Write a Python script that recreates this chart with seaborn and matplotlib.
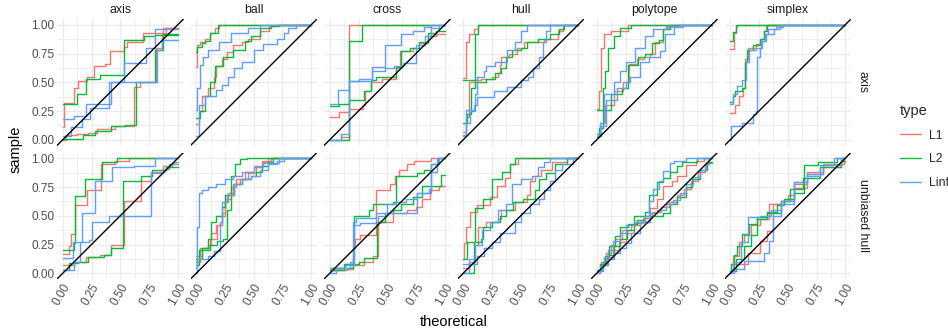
import matplotlib
matplotlib.use("Agg")
import matplotlib.pyplot as plt
from matplotlib.lines import Line2D
from matplotlib.ticker import FixedLocator
import pandas as pd
import seaborn as sns

# facet levels, series and tick labels
shapes = ["axis", "ball", "cross", "hull", "polytope", "simplex"]
samplers = ["axis", "unbiased hull"]
types = ["L1", "L2", "Linf"]
tick_values = [0.0, 0.25, 0.5, 0.75, 1.0]
tick_labels = ["0.00", "0.25", "0.50", "0.75", "1.00"]
palette = {"L1": "#F8766D", "L2": "#00BA38", "Linf": "#619CFF"}

# step curves (theoretical, sample) per norm type, two runs each
axis_axis = {
    "L1": [[(0, 0.11), (0.01, 0.32), (0.10, 0.45), (0.13, 0.51), (0.21, 0.55), (0.27, 0.64), (0.37, 0.66), (0.41, 0.77), (0.53, 0.81), (0.56, 0.85), (0.70, 0.93), (0.87, 0.97)],
           [(0, 0.0), (0.03, 0.04), (0.12, 0.05), (0.22, 0.06), (0.30, 0.09), (0.45, 0.12), (0.62, 0.46), (0.67, 0.50), (0.81, 0.80), (0.86, 0.93), (0.90, 0.97)]],
    "L2": [[(0, 0.31), (0.12, 0.40), (0.20, 0.53), (0.32, 0.56), (0.53, 0.87), (0.71, 0.90), (0.80, 0.91)],
           [(0, 0.01), (0.18, 0.04), (0.28, 0.08), (0.42, 0.12), (0.54, 0.13), (0.64, 0.50), (0.80, 0.78), (0.87, 0.92)]],
    "Linf": [[(0, 0.18), (0.10, 0.21), (0.20, 0.31), (0.42, 0.50), (0.53, 0.67), (0.72, 0.80), (0.80, 0.96)],
             [(0, 0.03), (0.07, 0.11), (0.17, 0.18), (0.24, 0.28), (0.40, 0.50), (0.82, 0.78), (0.86, 0.87)]],
}
ball_axis = {
    "L1": [[(0, 0.63), (0.01, 0.82), (0.03, 0.85), (0.08, 0.88), (0.12, 0.93), (0.16, 0.97), (0.20, 1.0)],
           [(0, 0.14), (0.02, 0.25), (0.05, 0.38), (0.10, 0.45), (0.15, 0.55), (0.17, 0.64), (0.22, 0.70), (0.27, 0.76), (0.32, 0.82), (0.40, 0.85), (0.45, 0.88), (0.55, 0.95), (0.63, 0.99), (0.70, 1.0)]],
    "L2": [[(0, 0.76), (0.01, 0.81), (0.05, 0.84), (0.08, 0.86), (0.12, 0.93), (0.19, 1.0)],
           [(0, 0.19), (0.03, 0.25), (0.08, 0.38), (0.12, 0.50), (0.16, 0.64), (0.23, 0.72), (0.32, 0.78), (0.42, 0.86), (0.48, 0.90), (0.55, 0.97), (0.65, 0.99), (0.72, 1.0)]],
    "Linf": [[(0, 0.26), (0.01, 0.45), (0.03, 0.65), (0.06, 0.72), (0.10, 0.78), (0.20, 0.85), (0.30, 0.93), (0.45, 0.97), (0.55, 1.0)],
             [(0, 0.03), (0.02, 0.30), (0.08, 0.38), (0.17, 0.43), (0.22, 0.48), (0.28, 0.55), (0.33, 0.62), (0.40, 0.68), (0.50, 0.78), (0.58, 0.83), (0.70, 0.88), (0.76, 0.93), (0.80, 0.97), (0.87, 1.0)]],
}
cross_axis = {
    "L1": [[(0, 0.20), (0.08, 0.24), (0.17, 1.0)],
           [(0, 0.0), (0.10, 0.02), (0.17, 0.27), (0.29, 0.30), (0.31, 0.42), (0.36, 0.50), (0.45, 0.53), (0.58, 0.62), (0.61, 0.77), (0.72, 0.80), (0.78, 0.84), (0.85, 0.90), (0.92, 0.92)]],
    "L2": [[(0, 0.29), (0.08, 0.31), (0.17, 0.86), (0.28, 1.0)],
           [(0, 0.0), (0.17, 0.35), (0.30, 0.42), (0.36, 0.52), (0.40, 0.55), (0.58, 0.63), (0.62, 0.77), (0.70, 0.80), (0.78, 0.85), (0.85, 0.93), (0.92, 0.95)]],
    "Linf": [[(0, 0.31), (0.07, 0.43), (0.17, 0.51), (0.37, 0.63), (0.48, 0.82), (0.62, 0.92), (0.72, 0.95), (0.82, 0.98), (0.88, 1.0)],
             [(0, 0.0), (0.10, 0.05), (0.17, 0.51), (0.25, 0.53), (0.37, 0.60), (0.48, 0.62), (0.56, 0.64), (0.64, 0.67), (0.75, 0.82), (0.83, 0.90), (0.88, 0.97), (0.95, 1.0)]],
}
hull_axis = {
    "L1": [[(0, 0.54), (0.02, 0.85), (0.05, 0.92), (0.09, 0.96), (0.13, 1.0)],
           [(0, 0.07), (0.02, 0.20), (0.05, 0.50), (0.10, 0.52), (0.15, 0.53), (0.25, 0.55), (0.30, 0.58), (0.32, 0.65), (0.33, 0.72), (0.40, 0.75), (0.47, 0.80), (0.53, 0.85), (0.70, 0.88), (0.82, 0.95), (0.87, 1.0)]],
    "L2": [[(0, 0.52), (0.10, 0.92), (0.13, 1.0)],
           [(0, 0.15), (0.03, 0.22), (0.07, 0.45), (0.10, 0.50), (0.20, 0.53), (0.28, 0.58), (0.33, 0.62), (0.37, 0.72), (0.42, 0.78), (0.50, 0.80), (0.55, 0.85), (0.65, 0.88), (0.75, 0.92), (0.83, 0.96), (0.88, 1.0)]],
    "Linf": [[(0, 0.04), (0.02, 0.15), (0.06, 0.25), (0.10, 0.40), (0.12, 0.55), (0.18, 0.60), (0.20, 0.64), (0.28, 0.68), (0.38, 0.78), (0.45, 0.85), (0.50, 0.95), (0.55, 1.0)],
             [(0, 0.03), (0.02, 0.26), (0.09, 0.30), (0.12, 0.37), (0.27, 0.42), (0.38, 0.46), (0.50, 0.52), (0.56, 0.55), (0.61, 0.62), (0.66, 0.72), (0.69, 0.85), (0.72, 0.95), (0.75, 1.0)]],
}
polytope_axis = {
    "L1": [[(0, 0.27), (0.02, 0.42), (0.04, 0.80), (0.06, 0.92), (0.12, 0.95), (0.27, 1.0)],
           [(0, 0.05), (0.03, 0.15), (0.07, 0.30), (0.15, 0.42), (0.23, 0.50), (0.28, 0.66), (0.35, 0.70), (0.41, 0.72), (0.46, 0.75), (0.51, 0.85), (0.58, 0.96), (0.61, 0.98), (0.68, 1.0)]],
    "L2": [[(0, 0.26), (0.05, 0.45), (0.07, 0.60), (0.10, 0.80), (0.15, 0.90), (0.20, 0.97), (0.30, 1.0)],
           [(0, 0.02), (0.02, 0.10), (0.05, 0.26), (0.12, 0.40), (0.22, 0.45), (0.27, 0.65), (0.36, 0.72), (0.42, 0.75), (0.48, 0.84), (0.54, 0.87), (0.58, 0.96), (0.64, 1.0)]],
    "Linf": [[(0, 0.05), (0.03, 0.15), (0.06, 0.40), (0.15, 0.50), (0.20, 0.60), (0.25, 0.68), (0.33, 0.80), (0.42, 0.90), (0.49, 0.96), (0.60, 0.99), (0.72, 1.0)],
             [(0, 0.03), (0.04, 0.12), (0.08, 0.35), (0.18, 0.45), (0.25, 0.50), (0.29, 0.55), (0.38, 0.68), (0.45, 0.72), (0.55, 0.77), (0.59, 0.92), (0.67, 0.98), (0.75, 1.0)]],
}
simplex_axis = {
    "L1": [[(0, 0.79), (0.03, 0.93), (0.05, 0.98), (0.06, 1.0)],
           [(0, 0.235), (0.04, 0.30), (0.08, 0.38), (0.11, 0.45), (0.13, 0.70), (0.15, 0.80), (0.22, 0.83), (0.27, 0.88), (0.29, 0.95), (0.31, 1.0)]],
    "L2": [[(0, 0.86), (0.02, 0.94), (0.05, 1.0)],
           [(0, 0.33), (0.02, 0.38), (0.04, 0.42), (0.10, 0.45), (0.13, 0.68), (0.145, 0.78), (0.20, 0.82), (0.26, 0.88), (0.29, 0.95), (0.32, 1.0)]],
    "Linf": [[(0, 0.31), (0.02, 0.40), (0.06, 0.47), (0.10, 0.52), (0.14, 0.68), (0.16, 0.78), (0.22, 0.80), (0.27, 0.86), (0.30, 0.92), (0.33, 0.96), (0.40, 0.98), (0.45, 1.0)],
             [(0, 0.0), (0.01, 0.12), (0.10, 0.15), (0.20, 0.22), (0.22, 0.25), (0.235, 0.72), (0.26, 0.80), (0.28, 0.86), (0.31, 0.92), (0.38, 0.96), (0.43, 0.98), (0.46, 1.0)]],
}
axis_unbiased = {
    "L1": [[(0, 0.17), (0.05, 0.24), (0.07, 0.34), (0.11, 0.59), (0.21, 0.72), (0.33, 0.95), (0.45, 0.98), (0.58, 1.0)],
           [(0, 0.07), (0.10, 0.10), (0.20, 0.14), (0.32, 0.16), (0.42, 0.25), (0.53, 0.63), (0.68, 0.80), (0.77, 0.87), (0.87, 0.93), (0.95, 0.95)]],
    "L2": [[(0, 0.20), (0.10, 0.26), (0.11, 0.67), (0.19, 0.82), (0.34, 0.97), (0.47, 1.0)],
           [(0, 0.03), (0.05, 0.09), (0.13, 0.10), (0.22, 0.14), (0.36, 0.16), (0.42, 0.22), (0.52, 0.80), (0.68, 0.85), (0.78, 0.90), (0.90, 0.92)]],
    "Linf": [[(0, 0.13), (0.09, 0.27), (0.17, 0.52), (0.28, 0.80), (0.43, 0.92), (0.62, 0.93), (0.80, 1.0)],
             [(0, 0.03), (0.10, 0.10), (0.15, 0.27), (0.23, 0.29), (0.25, 0.45), (0.40, 0.50), (0.77, 0.88), (0.88, 0.91), (0.92, 0.95), (0.97, 0.97)]],
}
ball_unbiased = {
    "L1": [[(0, 0.10), (0.03, 0.22), (0.10, 0.25), (0.13, 0.35), (0.17, 0.42), (0.22, 0.50), (0.25, 0.62), (0.28, 0.70), (0.32, 0.78), (0.38, 0.82), (0.45, 0.87), (0.52, 0.92), (0.58, 0.97), (0.62, 1.0)],
           [(0, 0.15), (0.05, 0.22), (0.12, 0.30), (0.18, 0.42), (0.22, 0.52), (0.25, 0.65), (0.30, 0.75), (0.35, 0.82), (0.42, 0.88), (0.50, 0.93), (0.57, 0.98), (0.65, 1.0)]],
    "L2": [[(0, 0.07), (0.02, 0.20), (0.05, 0.22), (0.10, 0.30), (0.13, 0.45), (0.17, 0.50), (0.22, 0.58), (0.25, 0.68), (0.30, 0.85), (0.34, 0.95), (0.38, 0.99), (0.44, 1.0)],
           [(0, 0.12), (0.05, 0.20), (0.12, 0.25), (0.18, 0.28), (0.23, 0.30), (0.27, 0.55), (0.30, 0.68), (0.33, 0.78), (0.40, 0.82), (0.48, 0.85), (0.52, 0.88), (0.57, 0.93), (0.62, 0.97), (0.67, 1.0)]],
    "Linf": [[(0, 0.05), (0.01, 0.40), (0.02, 0.70), (0.05, 0.72), (0.10, 0.75), (0.17, 0.78), (0.25, 0.82), (0.32, 0.85), (0.40, 0.88), (0.50, 0.92), (0.58, 0.96), (0.72, 1.0)],
             [(0, 0.0), (0.01, 0.12), (0.10, 0.15), (0.15, 0.19), (0.21, 0.45), (0.22, 0.62), (0.27, 0.68), (0.33, 0.78), (0.40, 0.82), (0.48, 0.85), (0.55, 0.90), (0.62, 0.95), (0.70, 0.98), (0.76, 1.0)]],
}
cross_unbiased = {
    "L1": [[(0, 0.03), (0.08, 0.05), (0.13, 0.08), (0.20, 0.22), (0.22, 0.30), (0.26, 0.33), (0.40, 0.72), (0.52, 0.78), (0.57, 0.85), (0.60, 0.90), (0.67, 0.95), (0.73, 0.98), (0.88, 1.0)],
           [(0, 0.03), (0.15, 0.04), (0.20, 0.07), (0.30, 0.10), (0.38, 0.15), (0.42, 0.45), (0.55, 0.52), (0.67, 0.55), (0.75, 0.58), (0.80, 0.65), (0.87, 0.72), (0.95, 0.76)]],
    "L2": [[(0, 0.03), (0.12, 0.05), (0.20, 0.13), (0.21, 0.50), (0.34, 0.55), (0.38, 0.60), (0.55, 0.62), (0.58, 0.85), (0.76, 0.87), (0.82, 0.90), (0.88, 0.95), (0.94, 1.0)],
           [(0, 0.05), (0.12, 0.08), (0.25, 0.10), (0.30, 0.13), (0.41, 0.45), (0.48, 0.52), (0.55, 0.55), (0.62, 0.60), (0.72, 0.66), (0.80, 0.76), (0.97, 0.855)]],
    "Linf": [[(0, 0.05), (0.13, 0.07), (0.21, 0.42), (0.26, 0.44), (0.42, 0.50), (0.50, 0.60), (0.58, 0.62), (0.66, 0.65), (0.76, 0.70), (0.88, 0.88), (0.93, 1.0)],
             [(0, 0.0), (0.05, 0.05), (0.18, 0.10), (0.20, 0.45), (0.23, 0.48), (0.40, 0.52), (0.76, 0.70), (0.86, 0.73), (0.88, 0.95), (0.95, 1.0)]],
}
hull_unbiased = {
    "L1": [[(0, 0.12), (0.01, 0.26), (0.02, 0.40), (0.06, 0.53), (0.12, 0.59), (0.23, 0.66), (0.29, 0.76), (0.36, 0.83), (0.41, 0.95), (0.48, 1.0)],
           [(0, 0.05), (0.05, 0.10), (0.10, 0.25), (0.13, 0.40), (0.20, 0.45), (0.30, 0.47), (0.33, 0.55), (0.45, 0.62), (0.55, 0.68), (0.58, 0.80), (0.62, 0.85), (0.68, 0.90), (0.77, 0.97), (0.90, 1.0)]],
    "L2": [[(0, 0.12), (0.03, 0.27), (0.10, 0.57), (0.17, 0.65), (0.25, 0.82), (0.34, 0.88), (0.41, 0.95), (0.45, 1.0)],
           [(0, 0.0), (0.09, 0.27), (0.15, 0.30), (0.17, 0.40), (0.25, 0.45), (0.32, 0.50), (0.37, 0.55), (0.43, 0.62), (0.52, 0.65), (0.62, 0.72), (0.66, 0.82), (0.72, 0.87), (0.80, 0.95), (0.90, 1.0)]],
    "Linf": [[(0, 0.08), (0.05, 0.12), (0.10, 0.25), (0.16, 0.38), (0.23, 0.45), (0.30, 0.55), (0.37, 0.60), (0.42, 0.78), (0.50, 0.82), (0.60, 0.85), (0.65, 0.92), (0.70, 0.97), (0.75, 1.0)],
             [(0, 0.0), (0.05, 0.08), (0.12, 0.15), (0.18, 0.22), (0.25, 0.27), (0.32, 0.35), (0.45, 0.45), (0.50, 0.52), (0.58, 0.60), (0.66, 0.65), (0.70, 0.72), (0.75, 0.80), (0.80, 0.90), (0.86, 0.95), (0.95, 1.0)]],
}
polytope_unbiased = {
    "L1": [[(0, 0.03), (0.04, 0.10), (0.08, 0.18), (0.12, 0.25), (0.16, 0.30), (0.22, 0.38), (0.30, 0.42), (0.38, 0.45), (0.46, 0.57), (0.52, 0.65), (0.58, 0.76), (0.65, 0.80), (0.70, 0.85), (0.78, 0.94), (0.86, 0.98), (0.93, 1.0)],
           [(0, 0.02), (0.04, 0.07), (0.09, 0.14), (0.14, 0.20), (0.19, 0.27), (0.25, 0.35), (0.32, 0.44), (0.40, 0.48), (0.48, 0.53), (0.56, 0.58), (0.63, 0.62), (0.70, 0.68), (0.76, 0.73), (0.82, 0.80), (0.88, 0.88), (0.94, 0.95), (0.98, 1.0)]],
    "L2": [[(0, 0.02), (0.03, 0.08), (0.07, 0.15), (0.11, 0.24), (0.16, 0.32), (0.20, 0.40), (0.27, 0.43), (0.35, 0.46), (0.42, 0.53), (0.45, 0.68), (0.52, 0.79), (0.58, 0.83), (0.64, 0.88), (0.70, 0.93), (0.74, 0.97), (0.87, 1.0)],
           [(0, 0.03), (0.05, 0.10), (0.10, 0.16), (0.15, 0.24), (0.20, 0.30), (0.26, 0.38), (0.32, 0.50), (0.58, 0.52), (0.64, 0.60), (0.70, 0.66), (0.78, 0.75), (0.83, 0.82), (0.90, 0.90), (0.96, 0.97)]],
    "Linf": [[(0, 0.0), (0.03, 0.06), (0.06, 0.14), (0.10, 0.20), (0.14, 0.28), (0.20, 0.35), (0.25, 0.42), (0.32, 0.45), (0.42, 0.50), (0.45, 0.63), (0.49, 0.73), (0.54, 0.80), (0.58, 0.89), (0.64, 0.96), (0.67, 0.98), (0.78, 1.0)],
             [(0, 0.02), (0.05, 0.07), (0.10, 0.12), (0.15, 0.18), (0.20, 0.22), (0.25, 0.26), (0.30, 0.35), (0.38, 0.45), (0.46, 0.52), (0.52, 0.55), (0.60, 0.60), (0.66, 0.64), (0.72, 0.70), (0.78, 0.78), (0.84, 0.84), (0.90, 0.90), (0.95, 0.96)]],
}
simplex_unbiased = {
    "L1": [[(0, 0.02), (0.02, 0.15), (0.075, 0.27), (0.12, 0.33), (0.18, 0.42), (0.26, 0.47), (0.34, 0.60), (0.44, 0.63), (0.50, 0.68), (0.55, 0.78), (0.67, 0.88), (0.81, 0.95), (0.99, 1.0)],
           [(0, 0.02), (0.03, 0.08), (0.15, 0.18), (0.26, 0.28), (0.32, 0.37), (0.37, 0.60), (0.47, 0.63), (0.55, 0.74), (0.67, 0.86), (0.81, 0.92), (0.96, 0.98)]],
    "L2": [[(0, 0.02), (0.01, 0.08), (0.03, 0.155), (0.06, 0.24), (0.10, 0.34), (0.16, 0.43), (0.23, 0.49), (0.32, 0.53), (0.41, 0.59), (0.47, 0.65), (0.55, 0.70), (0.64, 0.94), (0.76, 0.97), (0.93, 1.0)],
           [(0, 0.02), (0.05, 0.12), (0.12, 0.24), (0.18, 0.33), (0.23, 0.47), (0.32, 0.52), (0.44, 0.63), (0.52, 0.73), (0.63, 0.83), (0.78, 0.92), (0.96, 0.98)]],
    "Linf": [[(0, 0.02), (0.02, 0.10), (0.09, 0.27), (0.15, 0.49), (0.26, 0.50), (0.35, 0.55), (0.44, 0.63), (0.55, 0.79), (0.67, 0.85), (0.78, 0.94), (0.90, 1.0)],
             [(0, 0.0), (0.03, 0.04), (0.12, 0.11), (0.21, 0.11), (0.29, 0.18), (0.34, 0.28), (0.37, 0.50), (0.44, 0.60), (0.55, 0.79), (0.67, 0.86), (0.81, 0.94), (0.96, 1.0)]],
}

curves = {
    "axis": [axis_axis, ball_axis, cross_axis, hull_axis, polytope_axis, simplex_axis],
    "unbiased hull": [axis_unbiased, ball_unbiased, cross_unbiased, hull_unbiased, polytope_unbiased, simplex_unbiased],
}

# long-format table
rows = []
for sampler in samplers:
    for shape, panel in zip(shapes, curves[sampler]):
        for t in types:
            for k, path in enumerate(panel[t]):
                pts = list(path)
                if pts[-1][0] < 1.0:
                    pts.append((1.0, pts[-1][1]))
                for x, y in pts:
                    rows.append({"sampler": sampler, "shape": shape, "type": t,
                                 "run": f"{t}-{k}", "theoretical": x, "sample": y})
df = pd.DataFrame(rows)

sns.set_theme(style="white")
plt.rcParams["font.family"] = ["Liberation Sans", "DejaVu Sans"]

W, H = 948, 333
fig = plt.figure(figsize=(W / 100, H / 100), dpi=100)

left0, top0, pw, ph, gap = 57.0, 19.0, 126.5, 126.5, 7.0
tick_col = "#4D4D4D"
minor = [0.125, 0.375, 0.625, 0.875]

for r, sampler in enumerate(samplers):
    for c, shape in enumerate(shapes):
        lx = left0 + c * (pw + gap)
        ty = top0 + r * (ph + gap)
        ax = fig.add_axes([lx / W, 1 - (ty + ph) / H, pw / W, ph / H])
        sub = df[(df["sampler"] == sampler) & (df["shape"] == shape)]
        sns.lineplot(data=sub, x="theoretical", y="sample", hue="type", hue_order=types,
                     units="run", estimator=None, sort=False, palette=palette,
                     drawstyle="steps-post", linewidth=1.0, legend=False, ax=ax)
        ax.axline((0, 0), (1, 1), color="black", linewidth=1.0, zorder=3)
        ax.set_xlim(-0.05, 1.05)
        ax.set_ylim(-0.05, 1.05)
        ax.set_xticks(tick_values)
        ax.set_yticks(tick_values)
        ax.xaxis.set_minor_locator(FixedLocator(minor))
        ax.yaxis.set_minor_locator(FixedLocator(minor))
        ax.grid(which="major", color="#EBEBEB", linewidth=1.0)
        ax.grid(which="minor", color="#EBEBEB", linewidth=0.55)
        ax.set_axisbelow(True)
        for s in ax.spines.values():
            s.set_visible(False)
        ax.tick_params(which="both", length=0, pad=2, labelsize=8.5, labelcolor=tick_col)
        ax.set_xlabel("")
        ax.set_ylabel("")
        if c == 0:
            ax.set_yticklabels(tick_labels)
        else:
            ax.set_yticklabels([])
        if r == 1:
            ax.set_xticklabels(tick_labels, rotation=60, ha="right", va="top",
                               rotation_mode="anchor")
        else:
            ax.set_xticklabels([])
        if r == 0:
            fig.text((lx + pw / 2) / W, 1 - 10 / H, shape, ha="center", va="center",
                     fontsize=8.8, color="#1A1A1A")
        if c == len(shapes) - 1:
            fig.text(863 / W, 1 - (ty + ph / 2) / H, sampler, ha="center", va="center",
                     rotation=270, fontsize=8.8, color="#1A1A1A")

fig.text(454 / W, 1 - 322 / H, "theoretical", ha="center", va="center", fontsize=10.5, color="black")
fig.text(16 / W, 1 - 149 / H, "sample", ha="center", va="center", rotation=90, fontsize=10.5, color="black")

handles = [Line2D([], [], color=palette[t], linewidth=1.0) for t in types]
leg = fig.legend(handles, types, title="type", loc="upper left",
                 bbox_to_anchor=(889 / W, 1 - 93 / H), frameon=False, fontsize=8.8,
                 title_fontsize=10.5, handlelength=1.7, handletextpad=0.7,
                 labelspacing=0.95, alignment="left")

fig.savefig("out.png", dpi=100)
